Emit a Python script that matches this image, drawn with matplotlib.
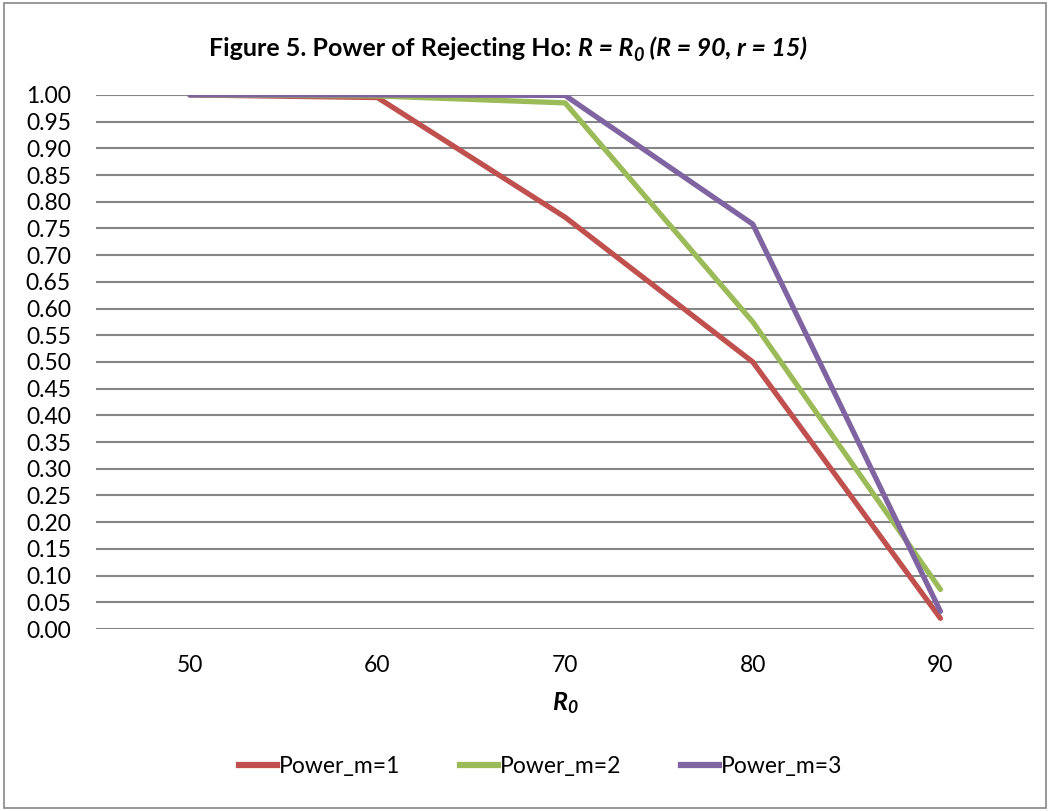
import matplotlib.pyplot as plt
from matplotlib.patches import Rectangle
from matplotlib.lines import Line2D

plt.rcParams['font.family'] = ['Lato', 'DejaVu Sans']
plt.rcParams['mathtext.fontset'] = 'custom'
plt.rcParams['mathtext.rm'] = 'Lato'
plt.rcParams['mathtext.it'] = 'Lato:italic'
plt.rcParams['mathtext.bf'] = 'Lato:bold'
plt.rcParams['mathtext.bfit'] = 'Lato:italic:bold'

r0 = ['50', '60', '70', '80', '90']
power_m1 = [1.000, 0.995, 0.771, 0.500, 0.020]
power_m2 = [1.000, 0.998, 0.985, 0.575, 0.074]
power_m3 = [1.000, 1.000, 0.999, 0.758, 0.033]
yticks = [i * 0.05 for i in range(21)]

fig = plt.figure(figsize=(10.5, 8.11), dpi=100)
ax = fig.add_axes([0.0914, 0.2244, 0.8936, 0.6586])

x = list(range(len(r0)))
ax.plot(x, power_m1, color='#C0504D', lw=3.8, solid_capstyle='round', label='Power_m=1')
ax.plot(x, power_m2, color='#9BBB59', lw=3.8, solid_capstyle='round', label='Power_m=2')
ax.plot(x, power_m3, color='#8064A2', lw=3.8, solid_capstyle='round', label='Power_m=3')

ax.set_xlim(-0.5, len(r0) - 0.5)
ax.set_ylim(0, 1.0)
ax.set_xticks(x)
ax.set_xticklabels(r0)
ax.set_yticks(yticks)
ax.set_yticklabels(['%.2f' % v for v in yticks])
ax.tick_params(axis='both', length=0, labelsize=16.5)
ax.tick_params(axis='y', pad=18)
ax.tick_params(axis='x', pad=19)
ax.grid(axis='y', color='#868686', lw=1.5)
ax.set_axisbelow(True)
for s in ax.spines.values():
    s.set_visible(False)

ax.set_xlabel(r'$\mathbfit{R_0}$', fontsize=18, labelpad=10)

# title built from pieces: bold part, then bold italic part with subscript
fig.canvas.draw()
rend = fig.canvas.get_renderer()
ty = 1 - 56 / 811
pieces = [('Figure 5. Power of Rejecting Ho: ', 'normal', 18, 0),
          ('R = R', 'italic', 18, 0),
          ('0', 'italic', 13, -5),
          (' (R = 90, r = 15)', 'italic', 18, 0)]
texts = []
for s, st, fs, dy in pieces:
    t = fig.text(0, ty, s, fontweight='bold', style=st, fontsize=fs, va='baseline', ha='left')
    texts.append((t, dy))
widths = [t.get_window_extent(rend).width for t, _ in texts]
xpos = 508 - sum(widths) / 2
for (t, dy), w in zip(texts, widths):
    t.set_position((xpos / 1050, ty + dy / 811))
    xpos += w

handles = [Line2D([], [], color=c, lw=4.5) for c in ['#C0504D', '#9BBB59', '#8064A2']]
fig.legend(handles, ['Power_m=1', 'Power_m=2', 'Power_m=3'], loc='center',
           bbox_to_anchor=(0.515, 0.055), ncol=3, frameon=False, fontsize=16.5,
           handlelength=1.65, handletextpad=0.1, columnspacing=2.6)

fig.patches.append(Rectangle((0.004, 0.004), 0.992, 0.992, transform=fig.transFigure,
                             fill=False, edgecolor='#868686', lw=1.2))

fig.savefig('out.png', dpi=100)
